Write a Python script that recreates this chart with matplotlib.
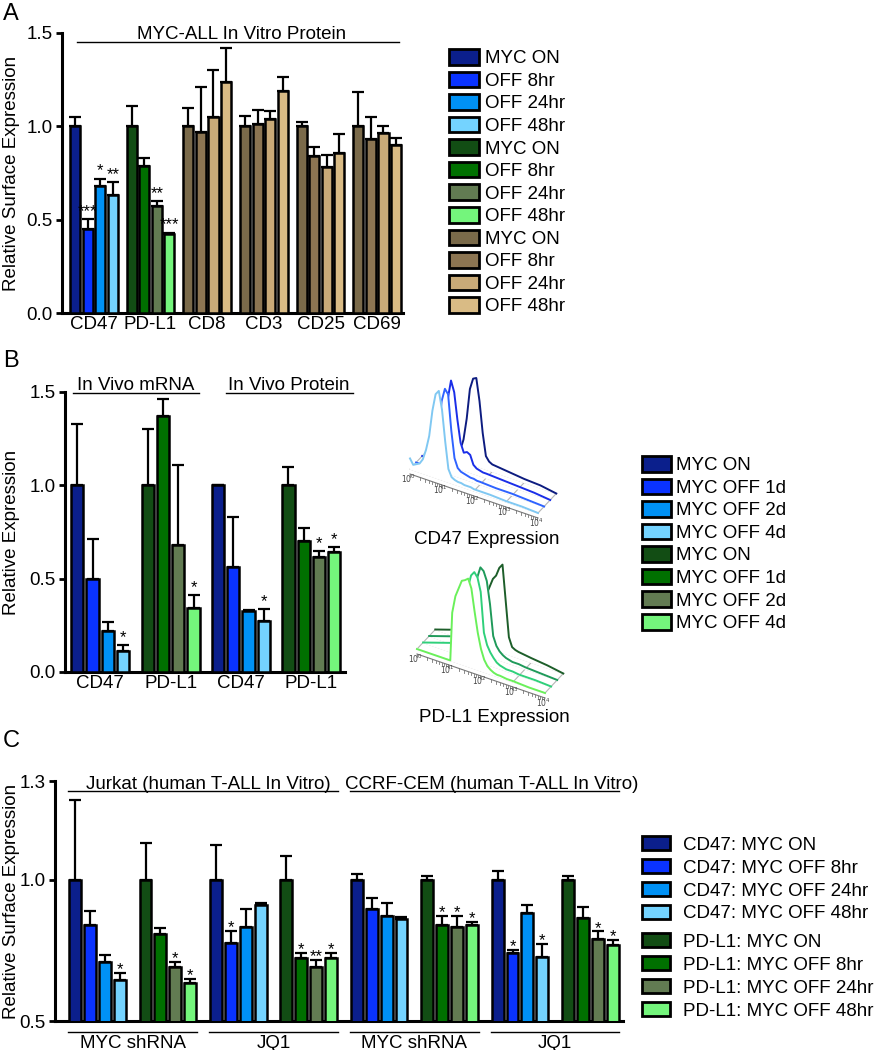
import numpy as np
import matplotlib.pyplot as plt
from matplotlib.patches import Patch

plt.rcParams['font.family'] = ['Liberation Sans', 'DejaVu Sans']
plt.rcParams['font.size'] = 13.5

W, H = 874, 1050
FS = 13.5

# colours
blues = ['#0b1f8c', '#0a33ff', '#0091f5', '#74d3ff']
greens = ['#124d14', '#007000', '#627b52', '#74f57c']
browns = ['#7a6a4a', '#8c7552', '#c9aa78', '#d9bb85']

# ---------------- panel A data
a_markers = ['CD47', 'PD-L1', 'CD8', 'CD3', 'CD25', 'CD69']
a_vals = [[1.00, 0.45, 0.68, 0.63],
          [1.00, 0.785, 0.575, 0.425],
          [1.00, 0.97, 1.05, 1.24],
          [1.00, 1.015, 1.04, 1.19],
          [1.00, 0.84, 0.78, 0.855],
          [1.00, 0.93, 0.965, 0.90]]
a_sem = [[0.05, 0.055, 0.04, 0.07],
         [0.11, 0.045, 0.025, 0.006],
         [0.10, 0.24, 0.25, 0.18],
         [0.055, 0.07, 0.04, 0.075],
         [0.025, 0.05, 0.065, 0.105],
         [0.185, 0.12, 0.035, 0.04]]
a_star_grp = [0, 0, 0, 1, 1]
a_star_bar = [1, 2, 3, 2, 3]
a_star_txt = ['***', '*', '**', '**', '***']
a_leg = ['MYC ON', 'OFF 8hr', 'OFF 24hr', 'OFF 48hr']

# ---------------- panel B data
b_markers = ['CD47', 'PD-L1', 'CD47', 'PD-L1']
b_vals = [[1.00, 0.50, 0.22, 0.11],
          [1.00, 1.37, 0.68, 0.345],
          [1.00, 0.56, 0.325, 0.275],
          [1.00, 0.70, 0.615, 0.645]]
b_sem = [[0.33, 0.21, 0.05, 0.036],
         [0.30, 0.09, 0.43, 0.065],
         [0.003, 0.27, 0.008, 0.062],
         [0.10, 0.07, 0.035, 0.025]]
b_star_grp = [0, 1, 2, 3, 3]
b_star_bar = [3, 3, 3, 2, 3]
b_leg = ['MYC ON', 'MYC OFF 1d', 'MYC OFF 2d', 'MYC OFF 4d']

# flow histograms (u = log10 intensity, h = normalised count), front to back: 4d, 2d, 1d, ON
cd47_u = [0, 0.1, 0.2, 0.3, 0.4, 0.5, 0.6, 0.7, 0.8, 0.9, 1.0, 1.1, 1.2, 1.3, 1.4,
          1.5, 1.6, 1.7, 1.8, 1.9, 2.0, 2.5, 3.0, 3.5, 4.0]
cd47_4d = [0.12, 0.06, 0.08, 0.10, 0.16, 0.28, 0.45, 0.75, 0.95, 1.0, 0.8, 0.45, 0.15, 0.07, 0.05,
           0.04, 0.04, 0.03, 0.03, 0.03, 0.02, 0.02, 0.01, 0.01, 0]
cd47_2d = [0, 0, 0, 0, 0.02, 0.05, 0.15, 0.45, 0.8, 0.95, 0.9, 0.5, 0.2, 0.1, 0.07,
           0.06, 0.05, 0.04, 0.04, 0.03, 0.03, 0.02, 0.02, 0.01, 0]
cd47_1d = [0, 0, 0, 0, 0.02, 0.05, 0.12, 0.35, 0.75, 0.97, 0.85, 0.55, 0.3, 0.2, 0.22,
           0.2, 0.1, 0.07, 0.06, 0.05, 0.05, 0.04, 0.03, 0.02, 0]
cd47_on = [0, 0, 0, 0, 0, 0, 0, 0, 0.02, 0.05, 0.12, 0.25, 0.5, 0.85, 0.98,
           1.0, 0.75, 0.4, 0.15, 0.1, 0.08, 0.06, 0.04, 0.03, 0]
cd47_cols = ['#80c8f2', '#2f63ff', '#1a2ee8', '#0d1c80']

pdl1_u = [0, 0.5, 1.0, 1.04, 1.1, 1.2, 1.3, 1.4, 1.5, 1.6, 1.7, 1.8, 1.9, 2.0, 2.1,
          2.2, 2.3, 2.4, 2.5, 2.6, 2.8, 3.0, 3.5, 4.0]
pdl1_4d = [0, 0, 0, 0, 0.55, 0.75, 0.85, 0.95, 0.97, 1.0, 0.9, 0.65, 0.42, 0.25, 0.14,
           0.08, 0.05, 0.03, 0.02, 0.02, 0.01, 0.01, 0, 0]
pdl1_2d = [0, 0.06, 0.12, 0.125, 0.135, 0.2, 0.5, 0.8, 0.95, 1.0, 0.95, 0.8, 0.35, 0.22, 0.15,
           0.1, 0.06, 0.04, 0.03, 0.02, 0.02, 0.01, 0.01, 0]
pdl1_1d = [0, 0.06, 0.12, 0.125, 0.135, 0.15, 0.3, 0.6, 0.85, 0.98, 0.95, 0.85, 0.6, 0.25, 0.15,
           0.1, 0.07, 0.05, 0.04, 0.03, 0.03, 0.02, 0.01, 0]
pdl1_on = [0, 0.06, 0.12, 0.125, 0.135, 0.15, 0.17, 0.25, 0.4, 0.6, 0.7, 0.8, 0.85, 0.95, 1.0,
           0.6, 0.2, 0.1, 0.08, 0.07, 0.06, 0.05, 0.03, 0]
pdl1_cols = ['#6af05a', '#2fd07a', '#1f9a5a', '#1d5e2a']

# ---------------- panel C data
c_vals = [[1.00, 0.841, 0.71, 0.645],
          [1.00, 0.808, 0.693, 0.633],
          [1.00, 0.778, 0.832, 0.911],
          [1.00, 0.722, 0.69, 0.722],
          [1.00, 0.895, 0.871, 0.861],
          [1.00, 0.841, 0.832, 0.841],
          [1.00, 0.74, 0.882, 0.725],
          [1.00, 0.865, 0.79, 0.769]]
c_sem = [[0.282, 0.05, 0.025, 0.025],
         [0.13, 0.022, 0.017, 0.015],
         [0.124, 0.04, 0.063, 0.007],
         [0.083, 0.018, 0.027, 0.018],
         [0.021, 0.04, 0.046, 0.009],
         [0.015, 0.03, 0.039, 0.011],
         [0.03, 0.011, 0.029, 0.047],
         [0.015, 0.04, 0.027, 0.017]]
c_star_grp = [0, 1, 1, 2, 3, 3, 3, 5, 5, 5, 6, 6, 7, 7]
c_star_bar = [3, 2, 3, 1, 1, 2, 3, 1, 2, 3, 1, 3, 2, 3]
c_star_txt = ['*', '*', '*', '*', '*', '**', '*', '*', '*', '*', '*', '*', '*', '*']
c_treat = ['MYC shRNA', 'JQ1', 'MYC shRNA', 'JQ1']
c_cells = ['Jurkat (human T-ALL In Vitro)', 'CCRF-CEM (human T-ALL In Vitro)']
c_leg_cd47 = ['CD47: MYC ON', 'CD47: MYC OFF 8hr', 'CD47: MYC OFF 24hr', 'CD47: MYC OFF 48hr']
c_leg_pdl1 = ['PD-L1: MYC ON', 'PD-L1: MYC OFF 8hr', 'PD-L1: MYC OFF 24hr', 'PD-L1: MYC OFF 48hr']


def px_axes(fig, left, top, right, bottom):
    return fig.add_axes([left / W, 1 - bottom / H, (right - left) / W, (bottom - top) / H])


def style(ax):
    ax.spines[['top', 'right']].set_visible(False)
    for s in ['left', 'bottom']:
        ax.spines[s].set_linewidth(2.2)
    ax.tick_params(axis='y', direction='out', length=4, width=2, pad=3, labelsize=FS)
    ax.tick_params(axis='x', length=0, pad=2, labelsize=FS)


def draw_bars(ax, vals, sems, cols, step):
    for g in range(len(vals)):
        x = g * step + np.arange(4)
        ax.bar(x, vals[g], width=0.8, color=cols[g], edgecolor='black', linewidth=1.8, zorder=3)
        ax.errorbar(x, vals[g], yerr=[np.zeros(4), sems[g]], fmt='none', ecolor='black',
                    elinewidth=1.6, capsize=4, capthick=1.6, zorder=2)


def draw_stars(ax, vals, sems, grp, bar, txt, step, dy):
    for g, b, t in zip(grp, bar, txt):
        x = g * step + b
        ax.annotate(t, (x, vals[g][b] + sems[g][b]), xytext=(0, dy), textcoords='offset points',
                    ha='center', va='bottom', fontsize=12, annotation_clip=False)


def legend(fig, labels, cols, left, top, hl, hh, pad, sp):
    handles = [Patch(facecolor=c, edgecolor='black', linewidth=2) for c in cols]
    fig.legend(handles, labels, loc='upper left', bbox_to_anchor=(left / W, 1 - top / H),
               frameon=False, fontsize=FS, handlelength=hl, handleheight=hh,
               handletextpad=pad, labelspacing=sp, borderpad=0, borderaxespad=0)


fig = plt.figure(figsize=(8.74, 10.5), dpi=100)

# ================= A
axA = px_axes(fig, 62, 33, 403, 313)
stepA = 4.5
draw_bars(axA, a_vals, a_sem, [blues, greens, browns, browns, browns, browns], stepA)
draw_stars(axA, a_vals, a_sem, a_star_grp, a_star_bar, a_star_txt, stepA, 0)
axA.set_xlim(-1.03, 26.05)
axA.set_ylim(0, 1.5)
axA.set_yticks([0, 0.5, 1.0, 1.5])
axA.set_yticklabels(['0.0', '0.5', '1.0', '1.5'])
axA.set_xticks(np.arange(6) * stepA + 1.5)
axA.set_xticklabels(a_markers)
axA.set_ylabel('Relative Surface Expression', fontsize=FS)
axA.yaxis.set_label_coords(-0.123, 0.5)
style(axA)
axA.plot([0.16, 25.7], [1.453, 1.453], color='black', lw=1, clip_on=False)
axA.text(13.2, 1.466, 'MYC-ALL In Vitro Protein', ha='center', va='baseline', fontsize=FS)
legend(fig, a_leg * 3, blues + greens + browns, 449, 49, 1.6, 0.9, 0.3, 0.23)

# ================= B
axB = px_axes(fig, 65, 392, 345, 672)
stepB = 4.6
draw_bars(axB, b_vals, b_sem, [blues, greens, blues, greens], stepB)
draw_stars(axB, b_vals, b_sem, b_star_grp, b_star_bar, ['*'] * 5, stepB, 0)
axB.set_xlim(-0.8, 17.5)
axB.set_ylim(0, 1.5)
axB.set_yticks([0, 0.5, 1.0, 1.5])
axB.set_yticklabels(['0.0', '0.5', '1.0', '1.5'])
axB.set_xticks(np.arange(4) * stepB + 1.5)
axB.set_xticklabels(b_markers)
axB.set_ylabel('Relative Expression', fontsize=FS)
axB.yaxis.set_label_coords(-0.161, 0.5)
style(axB)
for lab, x0, x1 in [('In Vivo mRNA', -0.28, 7.95), ('In Vivo Protein', 9.7, 18.0)]:
    axB.plot([x0, x1], [1.497, 1.497], color='black', lw=1, clip_on=False)
    axB.text((x0 + x1) / 2, 1.511, lab, ha='center', va='baseline', fontsize=FS)
legend(fig, b_leg * 2, blues + greens, 642, 456, 1.55, 0.9, 0.26, 0.23)

# flow histograms drawn in figure pixel space
hax = fig.add_axes([0, 0, 1, 1], zorder=-1)
hax.set_xlim(0, W)
hax.set_ylim(H, 0)
hax.axis('off')


def draw_hist(u, curves, cols, x0, y0, title, ty):
    u = np.asarray(u, dtype=float)

    def proj(uu, k, h):
        return x0 + uu * 32 + k * 6.1, y0 + uu * 11 - k * 6.5 - np.asarray(h) * 88

    for d in range(5):
        xs, ys = proj(np.array([d, d]), np.array([0, 3]), [0, 0])
        hax.plot(xs, ys, color='#b5b5b5', lw=0.8, zorder=1)
    for k in range(4):
        xs, ys = proj(np.array([0, 4]), k, [0, 0])
        hax.plot(xs, ys, color='#b5b5b5', lw=0.8, zorder=1)
    for k in range(3, -1, -1):
        xs, ys = proj(u, k, curves[k])
        bx, by = proj(u, k, np.zeros_like(u))
        hax.fill(np.r_[xs, bx[::-1]], np.r_[ys, by[::-1]], color='white', zorder=2 + 2 * (3 - k))
        hax.plot(xs, ys, color=cols[k], lw=1.4, zorder=3 + 2 * (3 - k))
    # front log axis
    ax_x, ax_y = proj(np.array([0, 4]), 0, [0, 0])
    hax.plot(ax_x, ax_y + 5, color='#777777', lw=0.8, zorder=12)
    for d in range(4):
        for m in range(1, 10):
            t = d + np.log10(m)
            tx, ty_ = proj(np.array([t]), 0, [0])
            hax.plot([tx[0], tx[0]], [ty_[0] + 5, ty_[0] + 7.5], color='#777777', lw=0.6, zorder=12)
    for d in range(5):
        tx, ty_ = proj(np.array([d]), 0, [0])
        hax.text(tx[0] - 2, ty_[0] + 10, r'$10^{%d}$' % d, fontsize=5.5, color='#444444',
                 ha='center', va='center', zorder=12)
    hax.text(x0 + 77, ty, title, ha='center', va='center', fontsize=FS)


draw_hist(cd47_u, [cd47_4d, cd47_2d, cd47_1d, cd47_on], cd47_cols, 410, 469, 'CD47 Expression', 539)
draw_hist(pdl1_u, [pdl1_4d, pdl1_2d, pdl1_1d, pdl1_on], pdl1_cols, 417, 649, 'PD-L1 Expression', 717)

# ================= C
axC = px_axes(fig, 55, 781, 623, 1021)
stepC = 4.73
draw_bars(axC, c_vals, c_sem, [blues, greens] * 4, stepC)
draw_stars(axC, c_vals, c_sem, c_star_grp, c_star_bar, c_star_txt, stepC, -3)
axC.set_xlim(-1.35, 36.8)
axC.set_ylim(0.5, 1.35)
axC.set_yticks([0.5, 1.0, 1.35])
axC.set_yticklabels(['0.5', '1.0', '1.3'])
axC.set_xticks([])
axC.set_ylabel('Relative Surface Expression', fontsize=FS)
axC.yaxis.set_label_coords(-0.062, 0.5)
style(axC)
trC = axC.get_xaxis_transform()
for i, lab in enumerate(c_treat):
    x0 = 2 * i * stepC - 0.45
    x1 = (2 * i + 1) * stepC + 3 + 0.45
    axC.plot([x0, x1], [-0.045, -0.045], color='black', lw=1, transform=trC, clip_on=False)
    axC.text((x0 + x1) / 2, -0.113, lab, ha='center', va='baseline', fontsize=FS, transform=trC)
for i, (lab, tx) in enumerate(zip(c_cells, [0.74, 18.1])):
    x0 = 4 * i * stepC - 0.45
    x1 = (4 * i + 3) * stepC + 3 + 0.45
    axC.plot([x0, x1], [1.314, 1.314], color='black', lw=1, clip_on=False)
    axC.text(tx, 1.321, lab, ha='left', va='baseline', fontsize=FS)
legend(fig, c_leg_cd47, blues, 642, 836, 1.5, 0.8, 0.7, 0.28)
legend(fig, c_leg_pdl1, greens, 642, 933, 1.5, 0.8, 0.7, 0.28)

# panel letters
fig.text(3 / W, 1 - 3 / H, 'A', fontsize=17, va='top', ha='left')
fig.text(3 / W, 1 - 350 / H, 'B', fontsize=17, va='top', ha='left')
fig.text(3 / W, 1 - 730 / H, 'C', fontsize=17, va='top', ha='left')

fig.savefig('out.png', dpi=100)
